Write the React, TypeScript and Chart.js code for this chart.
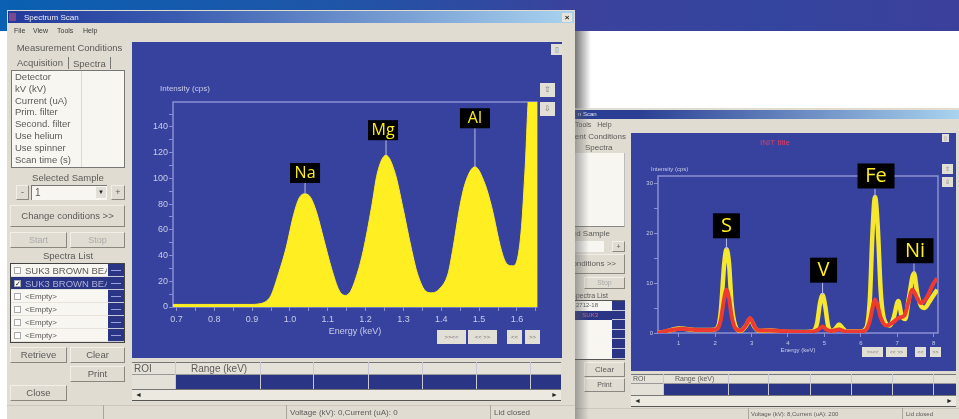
import React, { useEffect, useRef } from "react";
import { Chart, registerables } from "chart.js";

Chart.register(...registerables);

// Left window: light-element spectrum
const lightEnergy = [0.691,0.75,0.8,0.85,0.9,0.92,0.935,0.95,0.97,0.99,1.01,1.025,1.04,1.055,1.07,1.09,1.11,1.13,1.146,1.16,1.178,1.194,1.216,1.231,1.254,1.278,1.298,1.322,1.337,1.36,1.375,1.395,1.418,1.43,1.449,1.463,1.489,1.515,1.533,1.559,1.572,1.588,1.6,1.612,1.622,1.632,1.653];
const lightIntensity = [2,2,2,2,2,2.5,4,9,26,46,72,85,88,85,74,52,30,13,9,12,26,44,78,104,118,104,78,44,26,12,11,14,26,44,78,96,109,96,78,44,34,32,36,62,110,165,165];
const lightPeakNames = ["Na","Mg","Al"];
const lightPeakEnergy = [1.04,1.254,1.489];
const lightPeakValue = [88,118,109];
const lightLabelBase = [96.4,129.7,139];

// Right window: two overlaid spectra
const heavyEnergyA = [0.43,0.6,0.8,1.0,1.2,1.5,1.9,2.05,2.15,2.25,2.31,2.38,2.45,2.55,2.7,2.85,2.96,3.08,3.2,3.5,4,4.5,4.7,4.8,4.88,4.95,5.02,5.1,5.2,5.3,5.4,5.5,5.6,6,6.15,6.25,6.32,6.39,6.46,6.55,6.65,6.8,6.9,7.03,7.12,7.22,7.32,7.46,7.55,7.65,7.75,7.9,8.1];
const heavyYellow = [0,0.2,0.6,0.9,0.8,0.6,0.6,0.9,4,14,16.8,14,6,1.5,0.4,1.5,2.8,1.2,0.4,0.5,0.2,0.2,0.4,2,6,7.6,5.5,1.5,0.4,0.8,1.7,1,0.3,0.3,1,7,20,27.3,22,8,2.5,1.5,3,6.4,3.5,2.8,7,12,8,5.5,5,6.5,8.7];
const heavyEnergyB = [0.43,0.6,0.8,1.0,1.2,1.5,1.9,2.05,2.15,2.25,2.31,2.38,2.45,2.55,2.7,2.85,2.96,3.08,3.2,3.5,4,4.5,4.7,4.85,4.95,5.05,5.2,5.4,5.6,6,6.15,6.25,6.32,6.39,6.46,6.55,6.7,6.9,7.03,7.2,7.3,7.42,7.55,7.65,7.8,8.0,8.1];
const heavyRed = [0,0.3,0.6,0.8,0.8,0.6,0.6,0.8,2.5,7,8.7,7,3.5,1,0.5,1.6,3,1.3,0.5,0.5,0.3,0.2,0.3,0.8,1.3,0.7,0.4,0.7,0.3,0.3,0.7,2.5,5,6.7,5.5,3,1.5,2.2,3,3.5,6,8.7,7,6,7,10,11];
const heavyPeakNames = ["S","V","Fe","Ni"];
const heavyPeakEnergy = [2.31,4.95,6.39,7.46];
const heavyPeakValue = [16.8,7.6,27.3,12];
const heavyLabelBase = [19,10.1,29,14];

const conditionRows = ["Detector","kV (kV)","Current (uA)","Prim. filter","Second. filter","Use helium","Use spinner","Scan time (s)"];
const spectraRows = ["SUK3 BROWN BEA","SUK3 BROWN BEA","<Empty>","<Empty>","<Empty>","<Empty>"];
const spectraRowsRight = ["2712-18","SUK3","","","",""];
const menuItems = ["File","View","Tools","Help"];

const PANEL = "#36429e";
const NAVY = "#2b3585";
const GREY = "#e0dcd2";
const INK = "#5c5a58";
const AXIS = "#c9cbe8";
const FRAME = "#8b8fd2";
const FONT = '"Liberation Sans", Arial, sans-serif';

type Overlay = {
  names: string[]; energy: number[]; value: number[]; base: number[];
  boxW: number[]; boxShift: number[]; boxH: number; fontSize: number;
  yCaption: string; capX: number; capY: number; capSize: number;
  title?: string; titleX?: number; titleY?: number; titleSize?: number;
};

function overlayPlugin(o: Overlay) {
  return {
    id: "overlay",
    beforeDatasetsDraw(chart: any) {
      const { ctx, chartArea: a } = chart;
      ctx.save();
      ctx.strokeStyle = FRAME;
      ctx.lineWidth = 1.5;
      ctx.strokeRect(a.left, a.top, a.right - a.left, a.bottom - a.top);
      ctx.fillStyle = AXIS;
      ctx.font = `${o.capSize}px ${FONT}`;
      ctx.textAlign = "left";
      ctx.textBaseline = "middle";
      ctx.fillText(o.yCaption, o.capX, o.capY);
      if (o.title) {
        ctx.fillStyle = "#d8406a";
        ctx.font = `${o.titleSize}px ${FONT}`;
        ctx.textAlign = "center";
        ctx.fillText(o.title, o.titleX, o.titleY);
      }
      ctx.restore();
    },
    afterDatasetsDraw(chart: any) {
      const { ctx, scales } = chart;
      ctx.save();
      o.names.forEach((name, i) => {
        const x = scales.x.getPixelForValue(o.energy[i]);
        const yPeak = scales.y.getPixelForValue(o.value[i]);
        const yBase = scales.y.getPixelForValue(o.base[i]);
        ctx.strokeStyle = "#b9bce6";
        ctx.lineWidth = 1;
        ctx.beginPath();
        ctx.moveTo(x, yPeak);
        ctx.lineTo(x, yBase);
        ctx.stroke();
        const w = o.boxW[i];
        const cx = x + o.boxShift[i];
        ctx.fillStyle = "#000000";
        ctx.fillRect(cx - w / 2, yBase - o.boxH, w, o.boxH);
        ctx.fillStyle = "#ffee22";
        ctx.font = `${o.fontSize}px "Open Sans", sans-serif`;
        ctx.textAlign = "center";
        ctx.textBaseline = "middle";
        ctx.fillText(name, cx, yBase - o.boxH / 2 + 0.5);
      });
      ctx.restore();
    },
  };
}

function axes(opts: any) {
  const tickFont = { family: FONT, size: opts.tickSize };
  return {
    x: {
      type: "linear", min: opts.xMin, max: opts.xMax,
      afterFit(s: any) { s.height = opts.bottom; },
      border: { display: false },
      grid: { drawOnChartArea: false, drawTicks: true, tickLength: 4, color: FRAME },
      title: { display: true, text: "Energy (keV)", color: AXIS, font: { family: FONT, size: opts.titleSize }, padding: { top: 0, bottom: 0 } },
      ticks: { stepSize: opts.xStep, includeBounds: false, autoSkip: false, maxRotation: 0, color: AXIS, font: tickFont, padding: 3, callback: opts.xLabel },
    },
    y: {
      type: "linear", min: 0, max: opts.yMax,
      afterFit(s: any) { s.width = opts.left; },
      border: { display: false },
      grid: { drawOnChartArea: false, drawTicks: true, tickLength: 4, color: FRAME },
      ticks: { stepSize: opts.yStep, includeBounds: false, autoSkip: false, color: AXIS, font: tickFont, padding: 1, callback: opts.yLabel },
    },
  };
}

const abs = (x: number, y: number, w: number, h: number, extra: any = {}): any => ({
  position: "absolute", left: x, top: y, width: w, height: h, boxSizing: "border-box", ...extra,
});

const Txt = ({ x, y, w, h = 12, size = 10, align = "left", color = INK, children }: any) => (
  <div style={abs(x, y, w, h, { fontSize: size, lineHeight: `${h}px`, textAlign: align, color, whiteSpace: "nowrap", overflow: "hidden" })}>{children}</div>
);

const Btn = ({ x, y, w, h, size = 10, color = INK, children }: any) => (
  <div style={abs(x, y, w, h, {
    background: GREY, borderRight: "1.5px solid #8a8780", borderBottom: "1.5px solid #8a8780",
    borderTop: "1px solid #f2efe8", borderLeft: "1px solid #f2efe8",
    fontSize: size, lineHeight: `${h - 2}px`, textAlign: "center", color, whiteSpace: "nowrap", overflow: "hidden",
  })}>{children}</div>
);

const Chip = ({ x, y, w, h, size = 7, children }: any) => (
  <div style={abs(x, y, w, h, { background: "#e2dfd6", fontSize: size, lineHeight: `${h}px`, textAlign: "center", color: "#77736e", overflow: "hidden" })}>{children}</div>
);

function RoiTable({ x, y, w, cols, size = 10, rowH = 12, label = "Range (keV)", labelX }: any) {
  return (
    <>
      <div style={abs(x, y, w, rowH, { background: "#e4e1d8", borderTop: "1px solid #777", borderBottom: "1px solid #999" })} />
      <Txt x={x + 2} y={y} w={30} h={rowH} size={size}>ROI</Txt>
      <Txt x={labelX} y={y} w={70} h={rowH} size={size}>{label}</Txt>
      <div style={abs(cols[0], y + rowH, x + w - cols[0], rowH + 1, { background: NAVY })} />
      <div style={abs(x, y + rowH, cols[0] - x, rowH + 1, { background: "#e4e1d8" })} />
      {cols.map((c: number) => (
        <div key={c} style={abs(c, y, 1, 2 * rowH + 1, { background: "#c8c8d4" })} />
      ))}
      <div style={abs(x, y + 2 * rowH + 1, w, 12, { background: "#ece9e1", borderBottom: "1px solid #555", borderTop: "1px solid #777", fontSize: 7, lineHeight: "10px", color: "#222", padding: "0 3px", display: "flex", justifyContent: "space-between" })}>
        <span>◄</span><span>►</span>
      </div>
    </>
  );
}

export default function App() {
  const leftRef = useRef<HTMLCanvasElement>(null);
  const rightRef = useRef<HTMLCanvasElement>(null);

  useEffect(() => {
    const left = new Chart(leftRef.current!, {
      type: "line",
      data: {
        datasets: [{
          data: lightEnergy.map((e, i) => ({ x: e, y: lightIntensity[i] })),
          borderColor: "#ffee22", backgroundColor: "#ffee22", borderWidth: 1,
          fill: "origin", pointRadius: 0, cubicInterpolationMode: "monotone",
        }],
      },
      options: {
        animation: false, responsive: false,
        layout: { padding: { top: 60, right: 25, left: 0, bottom: 21 } },
        plugins: { legend: { display: false }, tooltip: { enabled: false } },
        scales: axes({
          xMin: 0.691, xMax: 1.653, yMax: 159.4, xStep: 0.05, yStep: 10, left: 41, bottom: 30, tickSize: 9, titleSize: 9,
          xLabel: (v: number) => Math.abs(v * 10 - Math.round(v * 10)) < 1e-6 ? v.toFixed(1) : "",
          yLabel: (v: number) => v % 20 === 0 ? String(v) : "",
        }) as any,
      },
      plugins: [overlayPlugin({
        names: lightPeakNames, energy: lightPeakEnergy, value: lightPeakValue, base: lightLabelBase,
        boxW: [30, 30, 30], boxShift: [0, -3, 0], boxH: 20, fontSize: 16,
        yCaption: "Intensity (cps)", capX: 28, capY: 47, capSize: 8,
      })],
    } as any);

    const right = new Chart(rightRef.current!, {
      type: "line",
      data: {
        datasets: [
          {
            data: heavyEnergyA.map((e, i) => ({ x: e, y: heavyYellow[i] })),
            borderColor: "#f5e62e", borderWidth: 4.5, pointRadius: 0, fill: false, cubicInterpolationMode: "monotone", order: 2,
          },
          {
            data: heavyEnergyB.map((e, i) => ({ x: e, y: heavyRed[i] })),
            borderColor: "#ee3b32", borderWidth: 4, pointRadius: 0, fill: false, cubicInterpolationMode: "monotone", order: 1,
          },
        ],
      },
      options: {
        animation: false, responsive: false,
        layout: { padding: { top: 43, right: 18, left: 0, bottom: 17 } },
        plugins: { legend: { display: false }, tooltip: { enabled: false } },
        scales: axes({
          xMin: 0.43, xMax: 8.12, yMax: 31.5, xStep: 1, yStep: 5, left: 27, bottom: 21, tickSize: 6, titleSize: 6,
          xLabel: (v: number) => String(v),
          yLabel: (v: number) => v % 10 === 0 ? String(v) : "",
        }) as any,
      },
      plugins: [overlayPlugin({
        names: heavyPeakNames, energy: heavyPeakEnergy, value: heavyPeakValue, base: heavyLabelBase,
        boxW: [27, 27, 37, 37], boxShift: [0, 1, 1, 1], boxH: 25, fontSize: 20,
        yCaption: "Intensity (cps)", capX: 20, capY: 36, capSize: 6,
        title: "INIT title", titleX: 144, titleY: 10, titleSize: 8,
      })],
    } as any);

    return () => { left.destroy(); right.destroy(); };
  }, []);

  return (
    <div style={{ position: "fixed", left: 0, top: 0, width: 959, height: 419, overflow: "hidden", background: "#fff", fontFamily: FONT }}>
      {/* banner */}
      <div style={abs(0, 0, 959, 31, { background: "linear-gradient(90deg,#0a60b2 0%,#1f55a8 35%,#3b429c 60%,#34459f 80%,#3b409b 100%)" })} />

      {/* right window */}
      <div style={{ filter: "blur(0.5px)" }}>
        <div style={abs(530, 108, 429, 311, { background: GREY })} />
        <div style={abs(530, 110, 429, 9, { background: "linear-gradient(90deg,#2a3f93 0%,#2a3f93 25%,#a9d3ef 100%)" })} />
        <Txt x={578} y={110} w={40} h={9} size={6} color="#e8e8f4">n Scan</Txt>
        <Txt x={575} y={119} w={60} h={11} size={7}>Tools&nbsp;&nbsp;&nbsp;Help</Txt>
        <Txt x={526} y={132} w={100} h={10} size={8} align="right">Measurement Conditions</Txt>
        <Txt x={585} y={143} w={34} h={10} size={8}>Spectra</Txt>
        <div style={abs(560, 153, 65, 74, { background: "#f7f6f1", borderBottom: "1px solid #888", borderRight: "1px solid #bbb" })} />
        <Txt x={530} y={229} w={80} h={10} size={8} align="right">Selected Sample</Txt>
        <div style={abs(560, 241, 44, 11, { background: "#f7f6f1" })} />
        <Btn x={612} y={241} w={13} h={11} size={7}>+</Btn>
        <Btn x={560} y={254} w={65} h={20} size={7}></Btn>
        <Txt x={526} y={258} w={90} h={11} size={8} align="right">Change conditions &gt;&gt;</Txt>
        <Btn x={584} y={277} w={41} h={12} size={7} color="#aaa">Stop</Btn>
        <Txt x={540} y={291} w={68} h={9} size={7} align="right">Spectra List</Txt>
        <div style={abs(560, 300, 65, 60, { background: "#f7f6f1", border: "1px solid #555" })} />
        {spectraRowsRight.map((t, i) => (
          <React.Fragment key={i}>
            <div style={abs(560, 301 + i * 9.6, 65, 9.6, { background: i === 1 ? NAVY : "transparent", color: i === 1 ? "#d0707a" : INK, fontSize: 6, lineHeight: "9px", textAlign: "right", paddingRight: 27 })}>{t}</div>
            <div style={abs(612, 301 + i * 9.6, 13, 9.6, { background: NAVY, borderBottom: "1px solid #c8c8d4" })} />
          </React.Fragment>
        ))}
        <Btn x={584} y={362} w={41} h={15} size={8}>Clear</Btn>
        <Btn x={584} y={378} w={41} h={14} size={7}>Print</Btn>
        <RoiTable x={631} y={374} w={325} cols={[663, 728, 768, 810, 851, 892, 933]} size={7} rowH={10} labelX={675} />
        <div style={abs(575, 408, 384, 1, { background: "#ccc8be" })} />
        <div style={abs(748, 408, 1, 11, { background: "#aaa69c" })} />
        <div style={abs(902, 408, 1, 11, { background: "#aaa69c" })} />
        <Txt x={751} y={409} w={150} h={10} size={6}>Voltage (kV): 8,Current (uA): 200</Txt>
        <Txt x={906} y={409} w={50} h={10} size={6}>Lid closed</Txt>
      </div>
      <div style={abs(631, 133, 325, 238, { background: PANEL, filter: "blur(0.5px)" })}>
        <canvas ref={rightRef} width={325} height={238} style={{ display: "block", width: 325, height: 238 }} />
        <Chip x={311} y={1} w={7} h={8} size={5}>▯</Chip>
        <Chip x={311} y={31} w={11} h={10} size={6}>⇧</Chip>
        <Chip x={311} y={44} w={11} h={10} size={6}>⇩</Chip>
        <Chip x={231} y={214} w={21} h={10} size={5}>&gt;&gt;&lt;&lt;</Chip>
        <Chip x={255} y={214} w={21} h={10} size={5}>&lt;&lt; &gt;&gt;</Chip>
        <Chip x={284} y={214} w={11} h={10} size={5}>&lt;&lt;</Chip>
        <Chip x={299} y={214} w={11} h={10} size={5}>&gt;&gt;</Chip>
      </div>

      {/* shadow of the front window */}
      <div style={abs(575, 31, 16, 77, { background: "linear-gradient(90deg,rgba(70,70,70,.75),rgba(255,255,255,0))" })} />
      <div style={abs(575, 108, 14, 311, { background: "linear-gradient(90deg,rgba(90,90,90,.5),rgba(255,255,255,0))" })} />

      {/* left window */}
      <div style={{ filter: "blur(0.45px)" }}>
        <div style={abs(7, 10, 568, 409, { background: GREY })} />
        <div style={abs(8, 11, 566, 12, { background: "linear-gradient(90deg,#23399a 0%,#3a5cb0 30%,#a9d3ef 100%)" })} />
        <div style={abs(9, 13, 7, 8, { background: "#7a4a8c" })} />
        <Txt x={24} y={12} w={120} h={11} size={8} color="#f0f0f8">Spectrum Scan</Txt>
        <div style={abs(562, 13, 10, 9, { background: "#e6e3da", fontSize: 8, lineHeight: "9px", textAlign: "center", color: "#222", fontWeight: 700 })}>×</div>
        {menuItems.map((m, i) => (
          <Txt key={m} x={[14, 33, 57, 83][i]} y={25} w={22} h={11} size={7} color="#3a3a3a">{m}</Txt>
        ))}
        <Txt x={7} y={41} w={125} h={13} size={9.5} align="center">Measurement Conditions</Txt>
        <Txt x={17} y={56} w={52} h={13} size={9.5}>Acquisition</Txt>
        <Txt x={73} y={57} w={40} h={13} size={9.5}>Spectra</Txt>
        <div style={abs(68, 57, 1, 12, { background: "#777" })} />
        <div style={abs(110, 57, 1, 12, { background: "#777" })} />
        <div style={abs(11, 70, 114, 98, { background: "#f7f6f1", border: "1px solid #777" })} />
        <div style={abs(81, 71, 1, 96, { background: "#dedbd2" })} />
        {conditionRows.map((r, i) => (
          <Txt key={r} x={15} y={71 + i * 11.8} w={66} h={12} size={9.5}>{r}</Txt>
        ))}
        <Txt x={7} y={171} w={122} h={13} size={9.5} align="center">Selected Sample</Txt>
        <Btn x={16} y={185} w={13} h={15} size={9}>-</Btn>
        <div style={abs(31, 185, 76, 15, { background: "#f7f6f1", borderTop: "1.5px solid #777", borderLeft: "1.5px solid #777", fontSize: 10, lineHeight: "13px", color: INK, paddingLeft: 3 })}>1</div>
        <div style={abs(96, 187, 10, 11, { background: "#e2dfd6", fontSize: 6, lineHeight: "11px", textAlign: "center", color: "#222" })}>▼</div>
        <Btn x={111} y={185} w={14} h={15} size={9}>+</Btn>
        <Btn x={10} y={205} w={115} h={22} size={9.5}>Change conditions &gt;&gt;</Btn>
        <Btn x={10} y={232} w={57} h={16} size={9} color="#aaa">Start</Btn>
        <Btn x={70} y={232} w={55} h={16} size={9} color="#aaa">Stop</Btn>
        <Txt x={7} y={250} w={122} h={12} size={9.5} align="center">Spectra List</Txt>
        <div style={abs(10, 263, 115, 80, { background: "#f7f6f1", border: "1px solid #444" })} />
        {spectraRows.map((t, i) => (
          <React.Fragment key={i}>
            <div style={abs(11, 264 + i * 13, 97, 13, { background: i === 1 ? NAVY : "transparent", borderBottom: "1px solid #e6e3da" })} />
            <div style={abs(14, 267 + i * 13, 7, 7, { background: "#fff", border: "1px solid #aaa", fontSize: 7, lineHeight: "6px", color: "#111" })}>{i === 1 ? "✓" : ""}</div>
            <Txt x={25} y={264 + i * 13} w={82} h={13} size={i < 2 ? 9.5 : 8} color={i === 1 ? "#aeb1d8" : INK}>{t}</Txt>
            <div style={abs(108, 264 + i * 13, 16, 13, { background: NAVY, borderBottom: "1px solid #c8c8d4" })} />
            <div style={abs(111, 270 + i * 13, 10, 1, { background: "#9aa0dc" })} />
          </React.Fragment>
        ))}
        <Btn x={10} y={347} w={57} h={16} size={9.5}>Retrieve</Btn>
        <Btn x={70} y={347} w={55} h={16} size={9.5}>Clear</Btn>
        <Btn x={70} y={366} w={55} h={16} size={9.5}>Print</Btn>
        <Btn x={10} y={385} w={57} h={16} size={9.5}>Close</Btn>
        <RoiTable x={132} y={362} w={429} cols={[175, 260, 313, 368, 422, 476, 530]} size={10} rowH={13} labelX={191} />
        <div style={abs(7, 405, 568, 1, { background: "#ccc8be" })} />
        <div style={abs(103, 405, 1, 14, { background: "#aaa69c" })} />
        <div style={abs(286, 405, 1, 14, { background: "#aaa69c" })} />
        <div style={abs(490, 405, 1, 14, { background: "#aaa69c" })} />
        <Txt x={290} y={407} w={190} h={12} size={8}>Voltage (kV): 0,Current (uA): 0</Txt>
        <Txt x={494} y={407} w={60} h={12} size={8}>Lid closed</Txt>
      </div>
      <div style={abs(132, 42, 430, 316, { background: PANEL, filter: "blur(0.45px)" })}>
        <canvas ref={leftRef} width={430} height={316} style={{ display: "block", width: 430, height: 316 }} />
        <Chip x={419} y={2} w={11} h={11} size={7}>▯</Chip>
        <Chip x={408} y={41} w={15} h={14} size={8}>⇧</Chip>
        <Chip x={408} y={60} w={15} h={14} size={8}>⇩</Chip>
        <Chip x={305} y={288} w={29} h={14} size={6}>&gt;&gt;&lt;&lt;</Chip>
        <Chip x={336} y={288} w={29} h={14} size={6}>&lt;&lt; &gt;&gt;</Chip>
        <Chip x={375} y={288} w={15} h={14} size={6}>&lt;&lt;</Chip>
        <Chip x={393} y={288} w={15} h={14} size={6}>&gt;&gt;</Chip>
      </div>
    </div>
  );
}
